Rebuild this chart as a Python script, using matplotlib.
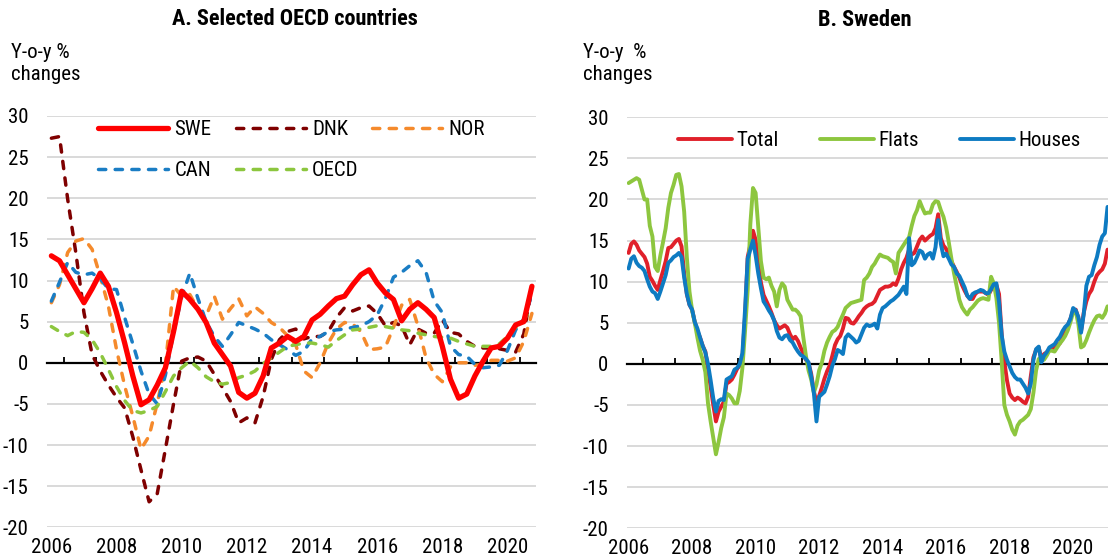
import matplotlib
matplotlib.use('Agg')
import matplotlib.pyplot as plt
from matplotlib import font_manager as fm
from matplotlib.ticker import FixedLocator
import numpy as np

# ---------------- Font choice (narrow sans if available) ----------------
def pick_font():
    entries = fm.fontManager.ttflist
    names = {e.name for e in entries}
    for fam in ['Liberation Sans Narrow', 'Arial Narrow', 'Roboto Condensed',
                'Noto Sans Condensed', 'Open Sans Condensed', 'DejaVu Sans Condensed']:
        if fam in names:
            return fam, None, fam != 'DejaVu Sans Condensed'
    for fam in ['Roboto', 'Noto Sans', 'Open Sans']:
        if any(e.name == fam and str(e.stretch) in ('condensed', 'semi-condensed', '75', '87')
               for e in entries):
            return fam, 'condensed', True
    return 'Liberation Sans', None, False


FAM, STRETCH, IS_NARROW = pick_font()
plt.rcParams['font.family'] = [FAM, 'Liberation Sans', 'DejaVu Sans']
if STRETCH:
    plt.rcParams['font.stretch'] = STRETCH
plt.rcParams['axes.unicode_minus'] = False
FS = 15 if IS_NARROW else 14
FS_TITLE = FS + 1

# ---------------- Data ----------------
# Panel A: quarterly, 2006Q1 .. 2020Q4
quarters = [2006 + i / 4 for i in range(60)]
swe = [13.0, 12.4, 10.7, 9.0, 7.3, 9.0, 10.9, 9.3, 6.1, 2.4,
       -1.6, -5.1, -4.5, -2.7, -0.6, 3.8, 8.7, 7.7, 6.5, 4.9,
       2.4, 1.0, -0.4, -3.6, -4.3, -3.7, -1.6, 1.8, 2.4, 3.2,
       2.6, 3.2, 5.2, 5.9, 6.9, 7.8, 8.1, 9.5, 10.7, 11.3,
       9.7, 8.5, 7.7, 5.1, 6.5, 7.3, 6.5, 5.5, 2.0, -2.0,
       -4.3, -3.8, -1.6, 0.2, 1.8, 2.0, 3.0, 4.6, 5.0, 9.3]
dnk = [27.3, 27.5, 19.9, 13.4, 6.1, 1.0, -1.0, -2.7, -4.2, -5.5,
       -9.0, -13.0, -16.9, -15.9, -10.5, -5.0, 0.2, 0.6, 0.7, 0.2,
       -1.4, -3.0, -4.7, -7.3, -6.7, -7.3, -4.1, 0.4, 2.8, 3.8,
       4.1, 2.9, 3.2, 3.2, 3.8, 5.5, 6.7, 6.3, 6.7, 6.9,
       6.0, 4.5, 4.9, 4.5, 2.2, 4.1, 3.6, 3.6, 5.2, 3.7,
       3.5, 2.6, 2.0, 1.8, 1.8, 1.7, 1.5, 1.3, 3.5, 9.2]
nor = [7.3, 9.5, 13.4, 14.8, 15.1, 13.8, 10.5, 6.9, 1.6, -2.8,
       -6.5, -10.5, -8.9, -4.9, -0.3, 9.3, 8.1, 8.3, 6.5, 5.7,
       8.1, 5.3, 6.6, 7.8, 5.7, 6.8, 6.0, 4.9, 4.3, 3.3,
       2.2, -1.0, -1.8, 0.0, 2.4, 4.1, 4.9, 4.7, 3.8, 1.6,
       1.7, 1.9, 4.3, 7.0, 7.7, 4.5, 0.6, -1.4, -2.3, -0.5,
       0.0, 0.0, -0.3, -0.2, 0.3, 0.3, 0.2, 0.6, 2.6, 6.0]
can = [7.5, 9.8, 12.2, 11.0, 10.7, 10.9, 10.2, 9.0, 8.9, 5.5,
       2.3, -1.0, -3.8, -5.0, -1.5, 3.6, 8.0, 10.9, 7.8, 5.0,
       3.2, 2.0, 3.4, 4.9, 4.5, 4.1, 3.6, 2.8, 2.2, 1.6,
       0.9, 1.4, 2.9, 3.2, 3.8, 4.0, 4.1, 4.3, 4.5, 5.0,
       5.8, 7.8, 10.4, 11.0, 11.8, 12.4, 11.0, 7.5, 6.1, 2.0,
       1.0, 0.8, -0.2, -0.6, -0.5, -0.3, 1.5, 4.0, 5.3, 8.3]
oecd = [4.4, 3.8, 3.3, 3.8, 3.7, 2.8, 1.2, -0.8, -2.9, -4.6,
        -5.8, -6.1, -5.8, -5.3, -3.5, -1.6, -0.6, 0.2, -0.6, -1.7,
        -2.3, -2.6, -2.4, -1.8, -1.5, -1.0, -0.1, 0.6, 1.3, 2.0,
        2.2, 2.4, 2.4, 2.2, 1.9, 2.7, 3.4, 4.0, 4.1, 4.3,
        4.5, 4.4, 4.2, 4.0, 3.9, 3.6, 3.4, 3.2, 3.1, 3.0,
        2.6, 2.3, 2.0, 2.0, 2.0, 2.3, 3.2, 4.3, 5.2, 6.8]

# Panel B: monthly, 2006M1 .. 2021M2
total = [13.5, 14.6, 14.9, 14.5, 13.8, 13.4, 13.0, 12.2, 10.6, 10.1, 9.5, 9.0,
         10.2, 11.3, 12.5, 14.1, 14.2, 14.6, 15.0, 15.2, 14.3, 11.0, 8.5, 7.2,
         6.6, 5.1, 4.0, 3.2, 2.2, 1.5, -0.6, -2.8, -5.0, -7.0, -5.8, -5.2,
         -4.6, -2.4, -2.2, -1.9, -1.3, -0.6, -0.2, 0.8, 5.8, 13.0, 14.5, 16.2,
         15.1, 12.2, 9.9, 8.4, 7.7, 7.0, 6.2, 5.3, 4.7, 4.3, 4.5, 4.7,
         4.4, 3.6, 3.0, 3.3, 2.8, 2.0, 1.3, 0.5, 0.1, -1.2, -3.3, -4.7,
         -3.9, -2.9, -1.8, -0.9, -0.2, 1.0, 2.3, 3.0, 3.4, 4.3, 5.6, 5.5,
         5.0, 4.9, 5.3, 5.8, 6.2, 6.7, 7.0, 7.2, 7.3, 7.6, 8.3, 9.0,
         9.2, 9.4, 9.4, 9.5, 9.8, 9.6, 10.4, 11.5, 12.3, 12.9, 13.9, 13.3,
         13.5, 14.3, 15.1, 15.5, 15.0, 15.3, 15.6, 15.8, 16.5, 18.2, 15.3, 14.4,
         14.0, 13.3, 12.5, 11.8, 11.2, 10.5, 9.6, 8.9, 8.3, 7.9, 7.9, 8.5,
         8.8, 8.8, 8.8, 8.6, 8.4, 9.0, 9.6, 9.6, 8.5, 3.6, 0.3, -2.0,
         -3.6, -4.1, -4.4, -4.1, -4.3, -4.6, -4.8, -4.0, -1.5, 0.8, 1.7, 2.0,
         0.6, 1.2, 1.4, 1.7, 1.8, 2.0, 2.3, 2.5, 3.2, 3.9, 4.7, 5.5,
         6.5, 6.6, 5.5, 4.0, 6.2, 7.6, 8.5, 9.0, 10.0, 10.8, 11.2, 11.5,
         12.2, 13.9]
houses = [11.6, 12.8, 13.1, 12.3, 11.9, 11.7, 11.3, 10.3, 9.4, 8.8, 8.6, 7.9,
          8.8, 9.8, 10.8, 12.3, 12.6, 13.0, 13.2, 13.5, 13.0, 10.5, 8.5, 7.2,
          6.6, 5.1, 4.3, 3.2, 2.2, 1.4, 0.0, -2.0, -4.2, -5.8, -4.5, -4.3,
          -4.4, -1.9, -1.7, -1.5, -0.7, -0.5, 0.0, 1.3, 6.6, 12.8, 13.9, 15.0,
          13.2, 11.0, 9.2, 7.6, 7.1, 6.5, 6.0, 5.3, 4.0, 3.2, 3.0, 3.4,
          3.5, 2.9, 2.6, 2.0, 1.5, 1.1, 0.9, 0.6, 0.2, -1.5, -3.5, -7.0,
          -4.0, -3.7, -3.4, -2.5, -1.5, -0.2, 0.6, 1.7, 1.5, 1.2, 3.2, 3.6,
          3.3, 3.0, 2.6, 2.8, 3.6, 4.4, 4.8, 4.6, 4.7, 4.9, 4.3, 6.0,
          6.8, 7.0, 7.3, 7.6, 7.8, 8.1, 8.4, 8.9, 9.4, 8.5, 15.3, 12.0,
          12.3, 13.0, 13.8, 13.6, 12.8, 13.3, 13.5, 12.8, 14.2, 17.5, 14.6, 13.1,
          13.4, 12.8, 12.1, 11.8, 11.0, 10.7, 10.0, 9.3, 8.3, 7.9, 8.5, 8.7,
          8.8, 9.0, 8.9, 8.6, 8.6, 9.1, 9.7, 9.8, 7.5, 3.5, 1.5, 0.5,
          -0.3, -1.1, -1.6, -1.9, -1.9, -2.4, -2.9, -3.6, -2.4, 0.5, 1.8, 2.1,
          0.2, 1.0, 1.4, 2.0, 2.2, 2.4, 2.9, 3.3, 4.0, 4.5, 4.8, 5.5,
          6.8, 6.5, 5.7, 3.8, 6.0, 9.5, 10.6, 10.8, 12.0, 13.0, 14.5, 15.5,
          15.9, 19.1]
flats = [22.0, 22.2, 22.4, 22.6, 22.4, 21.2, 20.0, 20.0, 16.8, 15.5, 11.8, 11.3,
         13.2, 14.8, 16.5, 19.0, 20.8, 21.8, 23.0, 23.1, 21.6, 18.5, 13.0, 8.8,
         6.5, 5.0, 3.2, 1.6, 0.5, -1.0, -4.8, -7.0, -9.0, -11.0, -9.5, -7.8,
         -6.5, -3.6, -3.8, -4.2, -4.8, -4.8, -3.3, -0.5, 4.0, 9.0, 17.0, 21.4,
         20.8, 16.7, 12.5, 10.5, 10.3, 10.5, 9.5, 8.8, 7.0, 9.0, 9.8, 9.4,
         7.8, 7.2, 6.6, 6.6, 6.3, 5.8, 3.3, 1.0, -0.8, -1.9, -3.5, -2.5,
         -0.8, 0.1, 1.6, 2.6, 3.3, 3.9, 4.1, 4.5, 5.3, 6.0, 6.8, 7.1,
         7.4, 7.5, 7.6, 7.7, 7.8, 10.2, 10.5, 11.0, 11.8, 12.2, 12.8, 13.3,
         13.1, 13.0, 12.9, 12.6, 12.4, 11.0, 13.5, 14.0, 14.5, 15.0, 15.4, 16.8,
         18.0, 18.7, 19.8, 19.0, 18.3, 18.4, 18.4, 19.4, 19.8, 19.7, 18.7, 17.9,
         16.6, 14.8, 12.8, 11.0, 9.4, 7.8, 6.9, 6.4, 6.0, 6.6, 6.9, 7.3,
         7.7, 7.9, 8.0, 7.9, 7.8, 10.6, 9.8, 8.0, 5.0, 0.3, -5.0, -6.2,
         -7.0, -8.0, -8.6, -7.5, -7.0, -6.8, -6.5, -6.2, -5.5, -3.5, -0.8, 0.6,
         0.8, 0.5, 1.0, 1.6, 1.6, 1.5, 2.0, 2.5, 2.9, 3.4, 4.1, 5.1,
         6.3, 6.4, 4.8, 2.0, 2.2, 2.9, 3.8, 4.6, 5.3, 5.8, 5.9, 5.6,
         6.1, 7.0]
months = [2006 + m / 12 for m in range(len(total))]

year_labels = list(range(2006, 2021, 2))
yticks = list(range(-20, 31, 5))

# ---------------- Figure ----------------
W, H = 1108, 559
fig = plt.figure(figsize=(W / 100, H / 100), dpi=100)


def px_axes(left, top, right, bottom):
    return [left / W, 1 - bottom / H, (right - left) / W, (bottom - top) / H]


def style(ax, xlim, tick_pos):
    ax.set_xlim(*xlim)
    ax.set_ylim(-20, 30)
    ax.set_yticks(yticks)
    ax.yaxis.grid(True, color='#d9d9d9', lw=1.4)
    ax.set_axisbelow(True)
    for s in ['top', 'right', 'left']:
        ax.spines[s].set_visible(False)
    ax.spines['bottom'].set_position(('data', 0))
    ax.spines['bottom'].set_color('black')
    ax.spines['bottom'].set_linewidth(1.6)
    ax.spines['bottom'].set_zorder(1.5)
    ax.tick_params(axis='y', length=0, pad=13.5, labelsize=FS)
    ax.xaxis.set_major_locator(FixedLocator(tick_pos))
    ax.tick_params(axis='x', direction='in', length=4.5, width=1.3,
                   color='black', labelbottom=False)
    sec = ax.secondary_xaxis(0.0)
    sec.set_xticks(year_labels)
    sec.set_xticklabels([str(y) for y in year_labels])
    sec.tick_params(length=0, pad=8, labelsize=FS)
    sec.spines['bottom'].set_visible(False)


# ---- Panel A ----
A_left, A_top, A_right, A_bottom = 47.3, 116, 536, 527.3
axA = fig.add_axes(px_axes(A_left, A_top, A_right, A_bottom))
style(axA, (2005.875, 2020.875), [y + 0.375 for y in range(2006, 2021)])

dash = (2.1, 2.7)
kwA = dict(lw=2.5, dash_capstyle='round', solid_joinstyle='round')
lD, = axA.plot(quarters, dnk, color='#7f0000', dashes=dash, label='DNK', **kwA)
lN, = axA.plot(quarters, nor, color='#f58a2c', dashes=dash, label='NOR', **kwA)
lC, = axA.plot(quarters, can, color='#1a7dc4', dashes=dash, label='CAN', **kwA)
lO, = axA.plot(quarters, oecd, color='#8cc63e', dashes=dash, label='OECD', **kwA)
lS, = axA.plot(quarters, swe, color='#ff0000', lw=3.8, solid_capstyle='round',
               solid_joinstyle='round', label='SWE')


def yfrac(ypx, top, bottom):
    return (bottom - ypx) / (bottom - top)


def xfracA(xpx):
    return (xpx - A_left) / (A_right - A_left)


em = FS * 100 / 72
leg_kw = dict(frameon=False, fontsize=FS, borderpad=0, borderaxespad=0,
              handlelength=70 / em, handletextpad=6 / em, labelspacing=1.06,
              loc='center left')
ycA = yfrac(150, A_top, A_bottom)
legsA = [([lS, lC], xfracA(98.3), ycA),
         ([lD, lO], xfracA(236), ycA),
         ([lN], xfracA(372), yfrac(129.3, A_top, A_bottom))]
for hs, xf, yf in legsA:
    lg = axA.legend(handles=hs, bbox_to_anchor=(xf, yf), **leg_kw)
    axA.add_artist(lg)
axA.legend_ = None

# ---- Panel B ----
B_left, B_top, B_bottom = 627.3, 117.3, 528.3
B_x0, B_x1 = 2006 - 1 / 24, 2021.5
B_right = B_left + (B_x1 - B_x0) * 31.75
axB = fig.add_axes(px_axes(B_left, B_top, B_right, B_bottom))
style(axB, (B_x0, B_x1), [y + 5.5 / 12 for y in range(2006, 2021)])

kwB = dict(lw=2.8, solid_joinstyle='round', solid_capstyle='round')
lT, = axB.plot(months, total, color='#e0202a', label='Total', **kwB)
lF, = axB.plot(months, flats, color='#8dc63f', label='Flats', **kwB)
lH, = axB.plot(months, houses, color='#0e7bc2', label='Houses', **kwB)


def xfracB(xpx):
    return (xpx - B_left) / (B_right - B_left)


legB_kw = dict(frameon=False, fontsize=FS, borderpad=0, borderaxespad=0,
               handlelength=53.7 / em, handletextpad=5 / em, loc='center left')
yB = yfrac(140.7, B_top, B_bottom)
for h, xp in [(lT, 678), (lF, 820), (lH, 960)]:
    lg = axB.legend(handles=[h], bbox_to_anchor=(xfracB(xp), yB), **legB_kw)
    axB.add_artist(lg)
axB.legend_ = None

# ---- Texts ----
fig.text(295 / W, 1 - 19 / H, 'A. Selected OECD countries', ha='center', va='center',
         fontsize=FS_TITLE, fontweight='bold')
fig.text(865 / W, 1 - 20 / H, 'B. Sweden', ha='center', va='center',
         fontsize=FS_TITLE, fontweight='bold')
fig.text(10.7 / W, 1 - 58 / H, 'Y-o-y %', ha='left', va='baseline', fontsize=FS)
fig.text(10.7 / W, 1 - 80 / H, 'changes', ha='left', va='baseline', fontsize=FS)
fig.text(582.7 / W, 1 - 58 / H, 'Y-o-y  %', ha='left', va='baseline', fontsize=FS)
fig.text(582.7 / W, 1 - 80 / H, 'changes', ha='left', va='baseline', fontsize=FS)

fig.savefig('out.png', dpi=100)
